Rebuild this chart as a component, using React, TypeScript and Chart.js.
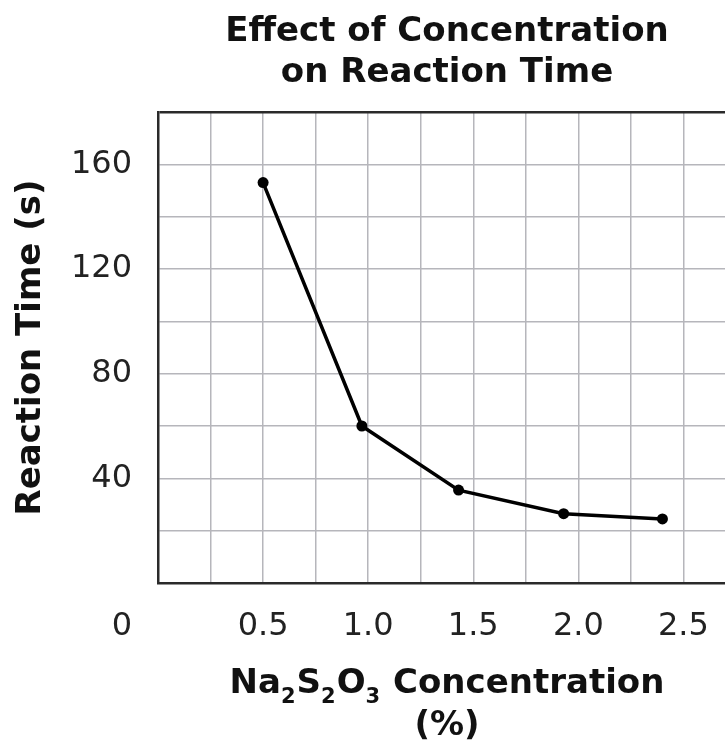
import React, { useEffect, useRef } from "react";
import { Chart, registerables } from "chart.js";

Chart.register(...registerables);

const concentrations = [0.5, 0.97, 1.43, 1.93, 2.4];
const reactionTimes = [153, 60, 35.5, 26.5, 24.5];
const xLabelValues = [0.5, 1.0, 1.5, 2.0, 2.5];
const yLabelValues = [40, 80, 120, 160];
const titleLines = ["Effect of Concentration", "on Reaction Time"];
// x-axis title pieces: [text, isSubscript]
const xTitleParts: [string, boolean][] = [
  ["Na", false],
  ["2", true],
  ["S", false],
  ["2", true],
  ["O", false],
  ["3", true],
  [" Concentration", false],
];
const xTitleLine2 = "(%)";
const yTitle = "Reaction Time (s)";
const cornerLabel = "0";

const FONT = "'DejaVu Sans', Verdana, sans-serif";
const GRID = "#b6b6bb";
const DARK = "#2a2a2a";

export default function App() {
  const ref = useRef<HTMLCanvasElement | null>(null);

  useEffect(() => {
    if (!ref.current) return;
    const extraText = {
      id: "extraText",
      afterDraw(chart: any) {
        const { ctx, chartArea } = chart;
        ctx.save();
        // corner "0"
        ctx.font = `32px ${FONT}`;
        ctx.fillStyle = "#222";
        ctx.textAlign = "center";
        ctx.textBaseline = "middle";
        ctx.fillText(cornerLabel, 114, chartArea.bottom + 24 + 19.2);

        // x-axis title with real subscripts
        const mainFont = `bold 34px ${FONT}`;
        const subFont = `bold 21px ${FONT}`;
        ctx.textAlign = "left";
        ctx.textBaseline = "alphabetic";
        let total = 0;
        for (const [t, sub] of xTitleParts) {
          ctx.font = sub ? subFont : mainFont;
          total += ctx.measureText(t).width + (sub ? 1 : 0);
        }
        const cx = (chartArea.left + chartArea.right) / 2;
        let x = cx - total / 2;
        const base1 = 685;
        ctx.fillStyle = "#111";
        for (const [t, sub] of xTitleParts) {
          ctx.font = sub ? subFont : mainFont;
          ctx.fillText(t, x, sub ? base1 + 10 : base1);
          x += ctx.measureText(t).width + (sub ? 1 : 0);
        }
        ctx.font = mainFont;
        ctx.textAlign = "center";
        ctx.fillText(xTitleLine2, cx, base1 + 42);
        ctx.restore();
      },
    };
    const chart = new Chart(ref.current, {
      type: "line",
      data: {
        datasets: [
          {
            data: concentrations.map((x, i) => ({ x, y: reactionTimes[i] })),
            borderColor: "#000",
            backgroundColor: "#000",
            borderWidth: 3.5,
            pointRadius: 5.5,
            pointBorderWidth: 0,
            pointBackgroundColor: "#000",
            tension: 0,
          },
        ],
      },
      options: {
        responsive: false,
        animation: false,
        layout: { padding: 0 },
        plugins: {
          legend: { display: false },
          tooltip: { enabled: false },
          title: {
            display: true,
            text: titleLines,
            fullSize: false,
            color: "#111",
            font: { family: FONT, size: 34, weight: "bold", lineHeight: 1.22 },
            padding: { top: 3, bottom: 18 },
          },
        },
        scales: {
          x: {
            type: "linear",
            min: 0,
            max: 2.75,
            afterFit: (s: any) => {
              s.height = 175;
            },
            ticks: {
              stepSize: 0.25,
              autoSkip: false,
              maxRotation: 0,
              minRotation: 0,
              padding: 24,
              color: "#222",
              font: { family: FONT, size: 32 },
              callback: (v: any) => {
                const n = Number(v);
                const hit = xLabelValues.find((t) => Math.abs(t - n) < 1e-6);
                return hit !== undefined ? hit.toFixed(1) : "";
              },
            },
            grid: {
              color: (c: any) => (c.tick && c.tick.value === 0 ? DARK : GRID),
              lineWidth: 1.5,
              drawTicks: false,
            },
            border: { display: true, color: DARK, width: 2.5 },
            title: { display: false },
          },
          y: {
            type: "linear",
            min: 0,
            max: 180,
            afterFit: (s: any) => {
              s.width = 150;
            },
            ticks: {
              stepSize: 20,
              autoSkip: false,
              padding: 26,
              color: "#222",
              font: { family: FONT, size: 32 },
              callback: (v: any) => {
                const n = Number(v);
                return yLabelValues.includes(n) ? String(n) : "";
              },
            },
            grid: {
              color: (c: any) => (c.tick && c.tick.value === 180 ? DARK : GRID),
              lineWidth: (c: any) => (c.tick && c.tick.value === 180 ? 2.5 : 1.5),
              drawTicks: false,
            },
            border: { display: true, color: DARK, width: 2.5 },
            title: {
              display: true,
              text: yTitle,
              color: "#111",
              font: { family: FONT, size: 34, weight: "bold", lineHeight: 1.2 },
              padding: { top: 3, bottom: 0 },
            },
          },
        },
      },
      plugins: [extraText],
    } as any);
    return () => chart.destroy();
  }, []);

  return (
    <div
      style={{
        position: "fixed",
        left: 8,
        top: 8,
        width: 717,
        height: 732,
        overflow: "hidden",
      }}
    >
      <canvas ref={ref} width={752} height={750} style={{ display: "block" }} />
    </div>
  );
}
